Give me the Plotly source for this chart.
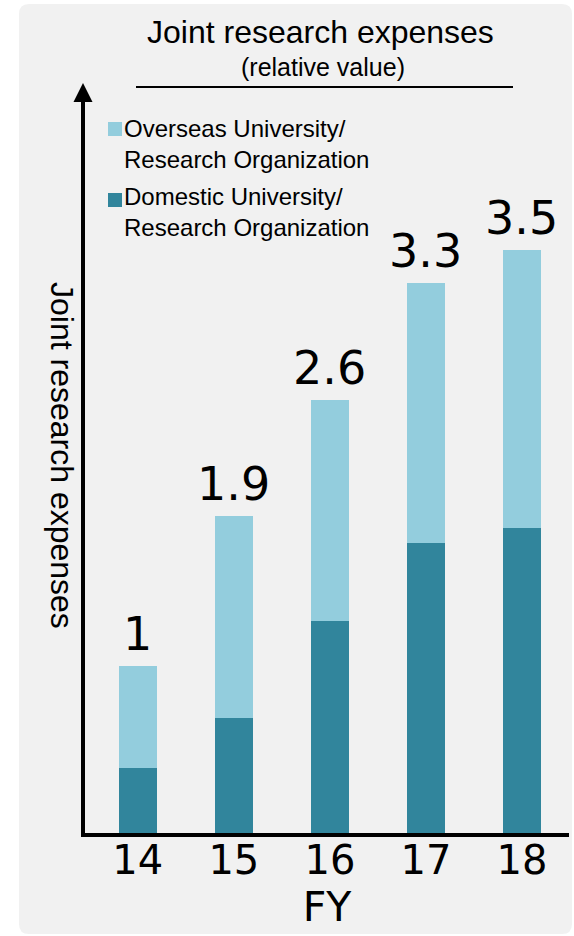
import plotly.graph_objects as go

# Fiscal years and joint research expenses (relative to FY14 = 1)
years = ["14", "15", "16", "17", "18"]
total = [1, 1.9, 2.6, 3.3, 3.5]
domestic = [0.39, 0.69, 1.27, 1.74, 1.83]
overseas = [round(t - d, 2) for t, d in zip(total, domestic)]
total_labels = ["1", "1.9", "2.6", "3.3", "3.5"]

series_names = ["Domestic University/<br>Research Organization",
                "Overseas University/<br>Research Organization"]

DOMESTIC_COLOR = "#31859c"
OVERSEAS_COLOR = "#93cddd"
PANEL_COLOR = "#f1f1f1"
SANS = "Liberation Sans, Arial, sans-serif"
NUM = "DejaVu Sans, Verdana, sans-serif"

W, H = 574, 936
ML, MR, MT, MB = 85, 5, 100, 103
PW, PH = W - ML - MR, H - MT - MB


def px(x, y):
    """Pixel position on the page -> paper coordinates."""
    return (x - ML) / PW, (H - MB - y) / PH


def path(points):
    parts = []
    for cmd, pts in points:
        coords = " ".join("%.5f,%.5f" % px(*p) for p in pts)
        parts.append(cmd + coords)
    return " ".join(parts) + " Z"


fig = go.Figure()
fig.add_trace(go.Bar(x=years, y=domestic, name=series_names[0],
                     marker=dict(color=DOMESTIC_COLOR, line=dict(width=0)),
                     showlegend=False))
fig.add_trace(go.Bar(x=years, y=overseas, name=series_names[1],
                     marker=dict(color=OVERSEAS_COLOR, line=dict(width=0)),
                     showlegend=False))

shapes = []
# rounded background panel
x0, y0, x1, y1, r = 19, 4, 572, 934, 10
shapes.append(dict(
    type="path", xref="paper", yref="paper", layer="below",
    fillcolor=PANEL_COLOR, line=dict(width=0),
    path=path([
        ("M", [(x0 + r, y0)]), ("L", [(x1 - r, y0)]),
        ("Q", [(x1, y0), (x1, y0 + r)]), ("L", [(x1, y1 - r)]),
        ("Q", [(x1, y1), (x1 - r, y1)]), ("L", [(x0 + r, y1)]),
        ("Q", [(x0, y1), (x0, y1 - r)]), ("L", [(x0, y0 + r)]),
        ("Q", [(x0, y0), (x0 + r, y0)]),
    ])))
# arrowhead on top of the value axis
shapes.append(dict(
    type="path", xref="paper", yref="paper", fillcolor="black",
    line=dict(width=0),
    path=path([("M", [(83, 83)]), ("L", [(92.5, 102)]), ("L", [(73.5, 102)])])))
# rule under the chart heading
lx0, ly = px(136, 87)
lx1, _ = px(513, 87)
shapes.append(dict(type="line", xref="paper", yref="paper",
                   x0=lx0, x1=lx1, y0=ly, y1=ly,
                   line=dict(color="black", width=2)))
# legend swatches
for (sx, sy), color in [((108, 122), OVERSEAS_COLOR), ((108, 193), DOMESTIC_COLOR)]:
    a, b = px(sx, sy)
    c, d = px(sx + 14, sy + 14)
    shapes.append(dict(type="rect", xref="paper", yref="paper",
                       x0=a, x1=c, y0=d, y1=b, fillcolor=color,
                       line=dict(width=0)))

annotations = []


def note(text, x, y, size, family=SANS, xanchor="center", **kw):
    a, b = px(x, y)
    d = dict(text=text, x=a, y=b, xref="paper", yref="paper", showarrow=False,
             xanchor=xanchor, yanchor="middle",
             font=dict(size=size, family=family, color="black"))
    d.update(kw)
    annotations.append(d)


note("Joint research expenses", 320, 32, 32)
note("(relative value)", 323, 67, 25)
note("Joint research expenses", 62, 455, 32, textangle=90)
note(series_names[1], 122, 144, 24, xanchor="left", align="left")
note(series_names[0], 122, 212, 24, xanchor="left", align="left")

# value labels above each stacked bar
for i, (t, lab) in enumerate(zip(total, total_labels)):
    annotations.append(dict(x=i, y=t, xref="x", yref="y", text=lab,
                            showarrow=False, xanchor="center",
                            yanchor="bottom", yshift=3,
                            font=dict(size=46, family=NUM, color="black")))

fig.update_layout(
    width=W, height=H, autosize=False,
    margin=dict(l=ML, r=MR, t=MT, b=MB),
    paper_bgcolor="white", plot_bgcolor="rgba(0,0,0,0)",
    barmode="stack", bargap=0.6,
    shapes=shapes, annotations=annotations,
    xaxis=dict(type="category", range=[-0.55, 4.49], showgrid=False,
               showline=True, linewidth=4, linecolor="black", ticks="",
               ticklabelstandoff=-11,
               tickfont=dict(size=40, family=NUM, color="black"),
               title=dict(text="FY", standoff=6,
                          font=dict(size=41, family=NUM, color="black"))),
    yaxis=dict(range=[0, 4.4], showgrid=False, zeroline=False,
               showline=True, linewidth=4, linecolor="black", ticks="",
               showticklabels=False),
)

fig.write_html("out.html")
